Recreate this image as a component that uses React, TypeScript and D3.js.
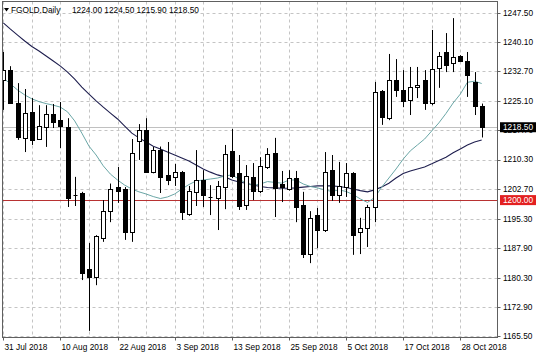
import React from 'react';
import * as d3 from 'd3';

const opens = [1230.5, 1233.0, 1224.6, 1215.8, 1222.4, 1215.5, 1218.6, 1221.9, 1220.3, 1218.6,
  1201.2, 1201.7, 1182.5, 1180.5, 1190.4, 1197.2, 1203.2, 1202.8, 1191.9, 1215.0,
  1217.9, 1207.1, 1212.7, 1206.4, 1205.9, 1207.1, 1196.5, 1202.1, 1205.1, 1200.9,
  1200.5, 1203.3, 1212.5, 1206.9, 1198.8, 1205.9, 1202.3, 1208.4, 1212.0, 1204.1,
  1202.8, 1205.5, 1198.8, 1186.3, 1196.2, 1192.3, 1207.6, 1201.3, 1203.3, 1206.9,
  1191.9, 1192.9, 1198.25, 1227.7, 1220.8, 1230.5, 1227.95, 1225.4, 1228.7, 1230.5,
  1224.65, 1233.5, 1237.6, 1234.8, 1236.6, 1235.3, 1230.0, 1224.0];
const highs = [1237.6, 1234.0, 1229.7, 1228.2, 1225.9, 1224.1, 1224.1, 1224.4, 1224.9, 1220.8,
  1205.9, 1202.1, 1189.1, 1191.1, 1200.0, 1204.2, 1208.4, 1203.3, 1215.5, 1219.3,
  1220.8, 1213.5, 1213.6, 1214.75, 1209.2, 1207.4, 1203.6, 1212.7, 1207.6, 1203.8,
  1204.85, 1214.0, 1218.05, 1211.45, 1208.9, 1209.4, 1210.9, 1213.2, 1215.8, 1207.4,
  1207.6, 1207.4, 1202.1, 1197.2, 1198.0, 1212.2, 1211.45, 1209.7, 1209.4, 1207.1,
  1195.5, 1198.8, 1230.0, 1227.95, 1237.1, 1235.8, 1233.0, 1233.8, 1233.8, 1233.0,
  1243.2, 1237.6, 1242.4, 1246.2, 1236.8, 1237.6, 1232.5, 1224.5];
const lows = [1222.9, 1224.4, 1215.3, 1212.2, 1214.0, 1215.4, 1213.5, 1218.3, 1213.2, 1198.25,
  1198.5, 1179.7, 1166.8, 1178.4, 1189.4, 1194.4, 1199.3, 1189.9, 1189.4, 1210.2,
  1206.9, 1206.8, 1201.8, 1203.8, 1203.6, 1194.95, 1196.0, 1198.5, 1198.25, 1196.2,
  1192.4, 1197.7, 1205.6, 1197.5, 1197.5, 1200.0, 1201.8, 1207.9, 1195.7, 1199.5,
  1202.4, 1194.4, 1185.3, 1184.0, 1187.8, 1191.9, 1199.8, 1199.3, 1200.8, 1186.1,
  1186.3, 1188.1, 1194.4, 1219.1, 1220.3, 1226.2, 1223.6, 1221.6, 1225.9, 1222.9,
  1224.1, 1228.5, 1232.5, 1232.5, 1235.05, 1226.2, 1221.6, 1215.9];
const closes = [1233.0, 1224.6, 1216.0, 1222.1, 1215.3, 1218.8, 1221.9, 1219.8, 1218.7, 1200.5,
  1201.2, 1181.5, 1180.5, 1190.9, 1197.2, 1202.7, 1202.3, 1191.8, 1212.0, 1217.9,
  1207.1, 1212.7, 1205.9, 1205.1, 1207.1, 1197.0, 1202.3, 1205.2, 1201.3, 1200.9,
  1203.6, 1211.7, 1206.1, 1198.5, 1206.1, 1202.3, 1208.7, 1211.7, 1202.95, 1203.2,
  1205.6, 1198.25, 1186.2, 1195.5, 1192.4, 1207.1, 1201.3, 1203.6, 1206.9, 1191.1,
  1192.9, 1198.25, 1227.4, 1221.1, 1230.5, 1227.95, 1225.2, 1228.7, 1229.2, 1224.65,
  1233.3, 1236.6, 1234.3, 1236.3, 1235.3, 1231.8, 1223.9, 1218.5];

const maSlow = [1245.0, 1243.4, 1241.9, 1240.4, 1239.0, 1237.85, 1236.6, 1235.3, 1234.0, 1232.5,
  1230.7, 1228.7, 1226.9, 1225.2, 1223.6, 1222.1, 1220.6, 1218.8, 1217.0, 1215.8,
  1214.75, 1213.7, 1213.0, 1212.2, 1211.45, 1210.7, 1209.9, 1208.9, 1207.9, 1207.1,
  1206.4, 1205.9, 1205.1, 1204.6, 1204.3, 1203.8, 1203.45, 1203.2, 1203.1, 1203.0,
  1203.0, 1203.1, 1203.3, 1203.45, 1203.6, 1203.6, 1203.6, 1203.45, 1203.2, 1202.8,
  1202.4, 1202.1, 1202.6, 1203.3, 1204.3, 1205.6, 1206.75, 1207.4, 1207.9, 1208.4,
  1209.2, 1210.05, 1210.9, 1212.0, 1213.0, 1214.0, 1214.75, 1215.25];
const maFast = [1231.0, 1229.5, 1227.95, 1226.7, 1225.7, 1225.0, 1224.5, 1224.1, 1223.6, 1222.4,
  1220.1, 1217.0, 1213.7, 1211.45, 1208.7, 1206.6, 1205.1, 1203.8, 1202.8, 1202.1,
  1201.55, 1200.9, 1200.4, 1200.8, 1201.55, 1202.8, 1203.95, 1204.85, 1205.1, 1205.35,
  1205.6, 1206.1, 1206.4, 1205.35, 1204.3, 1203.7, 1204.1, 1204.7, 1204.5, 1204.3,
  1205.1, 1205.1, 1204.1, 1203.45, 1203.1, 1202.6, 1202.2, 1202.6, 1202.2, 1201.4,
  1200.3, 1199.4, 1200.65, 1203.3, 1205.6, 1207.9, 1210.4, 1212.5, 1214.0, 1215.5,
  1217.55, 1219.6, 1222.0, 1224.65, 1226.9, 1229.9, 1230.2, 1229.6];

const priceLevels = [1247.5, 1240.1, 1232.7, 1225.1, 1217.7, 1210.3, 1202.7, 1195.3, 1187.9, 1180.3, 1172.9, 1165.5];
const priceLabels = ['1247.50', '1240.10', '1232.70', '1225.10', '1217.70', '1210.30', '1202.70', '1195.30', '1187.90', '1180.30', '1172.90', '1165.50'];
const dateIdx = [0, 8, 16, 24, 32, 40, 48, 56, 64];
const dateLabels = ['31 Jul 2018', '10 Aug 2018', '22 Aug 2018', '3 Sep 2018', '13 Sep 2018', '25 Sep 2018', '5 Oct 2018', '17 Oct 2018', '28 Oct 2018'];
const lastPrice = 1218.5;
const lastLabel = '1218.50';
const alertLevel = 1200;
const alertLabel = '1200.00';
const symbolText = 'FGOLD.Daily';
const ohlcText = '1224.00 1224.50 1215.90 1218.50';

export default function App() {
  const W = 536, H = 357;
  const L = 2.5, R = 497.5, T = 1.5, B = 337.5;
  const n = closes.length;
  const x = d3.scaleLinear().domain([0, n - 1]).range([3.3, 481.7]);
  const y = d3.scaleLinear().domain([1165.5, 1247.5]).range([336, 13]);
  const cx = (i: number) => Math.round(x(i)) + 0.5;
  const font = "'Liberation Sans', Arial, sans-serif";
  const fs = 8.3;
  const line = d3.line<number>().x((_, i) => x(i)).y(d => y(d));
  const gridIdx = d3.range(0, n, 4);
  const yr = (v: number) => Math.round(y(v)) + 0.5;

  return (
    <svg width={W} height={H} style={{ position: 'absolute', left: 0, top: 0, background: '#fff' }}>
      <defs>
        <clipPath id="plot"><rect x={L} y={T} width={R - L} height={B - T} /></clipPath>
      </defs>
      <rect x={0} y={0} width={W} height={H} fill="#fff" />
      <g clipPath="url(#plot)">
        {priceLevels.map((v, i) => (
          <line key={'h' + i} x1={L} x2={R} y1={yr(v)} y2={yr(v)} stroke="#c4c4c4" strokeDasharray="3,3" />
        ))}
        {gridIdx.map(i => (
          <line key={'v' + i} x1={cx(i)} x2={cx(i)} y1={T} y2={B} stroke="#c4c4c4" strokeDasharray="3,3" />
        ))}
        <line x1={L} x2={R} y1={yr(lastPrice)} y2={yr(lastPrice)} stroke="#c0c0c0" />
        <line x1={L} x2={R} y1={yr(alertLevel)} y2={yr(alertLevel)} stroke="#b83232" />
        <path d={line(maSlow) || ''} fill="none" stroke="#1f1f4f" strokeWidth={1.1} />
        <path d={line(maFast) || ''} fill="none" stroke="#6aa6a6" strokeWidth={1} />
        {closes.map((c, i) => {
          const o = opens[i];
          const up = c >= o;
          const top = Math.round(y(Math.max(o, c))) + 0.5;
          const bot = Math.round(y(Math.min(o, c))) + 0.5;
          const X = cx(i);
          return (
            <g key={'c' + i}>
              <line x1={X} x2={X} y1={y(highs[i])} y2={y(lows[i])} stroke="#000" />
              {bot - top < 1 ? (
                <line x1={X - 2} x2={X + 2} y1={top} y2={top} stroke="#000" />
              ) : (
                <rect x={X - 2} y={top} width={4} height={bot - top} fill={up ? '#fff' : '#000'} stroke="#000" />
              )}
            </g>
          );
        })}
      </g>
      <rect x={L} y={T} width={R - L} height={B - T} fill="none" stroke="#606060" />
      {priceLevels.map((v, i) => (
        <g key={'pl' + i}>
          <line x1={R} x2={R + 3} y1={yr(v)} y2={yr(v)} stroke="#606060" />
          <text x={503} y={y(v)} dy="0.35em" fontFamily={font} fontSize={fs} fill="#000">{priceLabels[i]}</text>
        </g>
      ))}
      <rect x={500} y={y(lastPrice) - 5} width={36} height={10} fill="#000" />
      <text x={503} y={y(lastPrice)} dy="0.35em" fontFamily={font} fontSize={fs} fill="#fff">{lastLabel}</text>
      <rect x={500} y={y(alertLevel) - 5} width={36} height={10} fill="#e32020" />
      <text x={503} y={y(alertLevel)} dy="0.35em" fontFamily={font} fontSize={fs} fill="#fff">{alertLabel}</text>
      {dateIdx.map((di, k) => (
        <g key={'d' + k}>
          <line x1={cx(di)} x2={cx(di)} y1={B} y2={B + 3} stroke="#606060" />
          <text x={cx(di) + 1} y={349.5} fontFamily={font} fontSize={fs} fill="#000">{dateLabels[k]}</text>
        </g>
      ))}
      <path d="M4,8 L9,8 L6.5,11.5 Z" fill="#000" />
      <text x={11} y={13} fontFamily={font} fontSize={fs} fill="#000">{symbolText}</text>
      <text x={72} y={13} fontFamily={font} fontSize={fs} fill="#000">{ohlcText}</text>
    </svg>
  );
}
